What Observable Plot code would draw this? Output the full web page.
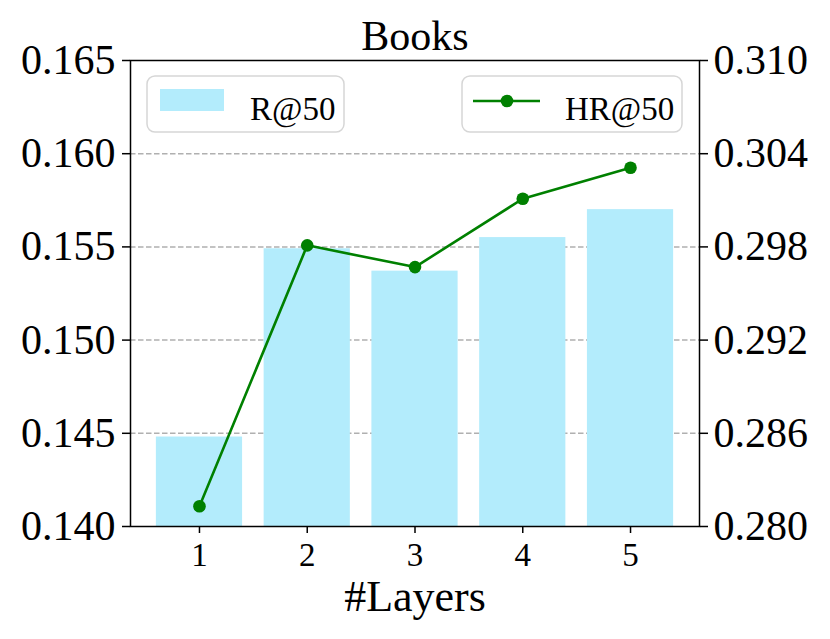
<!DOCTYPE html>
<html>
<head>
<meta charset="utf-8">
<script src="https://cdn.jsdelivr.net/npm/d3@7"></script>
<script src="https://cdn.jsdelivr.net/npm/@observablehq/plot@0.6"></script>
<style>
  html, body { margin: 0; padding: 0; background: #fff; }
  #chart svg { display: block; }
</style>
</head>
<body>
<div id="chart"></div>
<script>
const layers = [1, 2, 3, 4, 5];
const recall50 = [0.1448, 0.1549, 0.1537, 0.1555, 0.1570];
const hr50 = [0.2813, 0.2981, 0.2967, 0.3011, 0.3031];
const leftTicks = [0.140, 0.145, 0.150, 0.155, 0.160, 0.165];
const rightTicks = [0.280, 0.286, 0.292, 0.298, 0.304, 0.310];
const gridTicks = [0.145, 0.150, 0.155, 0.160];
const title = "Books";
const xLabel = "#Layers";
const seriesNames = ["R@50", "HR@50"];

const leftDomain = [0.140, 0.165];
const rightDomain = [0.280, 0.310];
const toLeft = v => leftDomain[0] + (v - rightDomain[0]) * (leftDomain[1] - leftDomain[0]) / (rightDomain[1] - rightDomain[0]);
const toRight = v => rightDomain[0] + (v - leftDomain[0]) * (rightDomain[1] - rightDomain[0]) / (leftDomain[1] - leftDomain[0]);

const rows = layers.map((l, i) => ({layer: l, r: recall50[i], hr: hr50[i], hrL: toLeft(hr50[i])}));

const barColor = "#b3ecfc";
const lineColor = "#008000";
const font = "'Liberation Serif', 'Times New Roman', serif";

const plot = Plot.plot({
  width: 830,
  height: 639,
  marginLeft: 130,
  marginRight: 131,
  marginTop: 60,
  marginBottom: 113,
  style: {fontFamily: font, fontSize: "42px", color: "black", background: "white"},
  x: {type: "linear", domain: [0.36, 5.64]},
  y: {domain: leftDomain},
  marks: [
    Plot.ruleY(gridTicks, {stroke: "#b0b0b0", strokeWidth: 1.5, strokeDasharray: "5.5,2.5"}),
    Plot.rectY(rows, {x1: d => d.layer - 0.4, x2: d => d.layer + 0.4, y1: () => leftDomain[0], y2: "r", fill: barColor}),
    Plot.line(rows, {x: "layer", y: "hrL", stroke: lineColor, strokeWidth: 2.6}),
    Plot.dot(rows, {x: "layer", y: "hrL", r: 6.3, fill: lineColor, stroke: "none"}),
    Plot.frame({stroke: "black", strokeWidth: 1.5}),
    Plot.axisY({anchor: "left", ticks: leftTicks, tickFormat: d => d.toFixed(3), tickSize: 8, tickPadding: 7, fontSize: 42, fontFamily: font, fontVariant: "normal", strokeWidth: 1.5, label: null}),
    Plot.axisY({anchor: "right", ticks: rightTicks.map(toLeft), tickFormat: d => toRight(d).toFixed(3), tickSize: 8, tickPadding: 6, fontSize: 42, fontFamily: font, fontVariant: "normal", strokeWidth: 1.5, label: null}),
    Plot.axisX({ticks: layers, tickFormat: d => String(d), tickSize: 7, tickPadding: 9, fontSize: 33, fontFamily: font, fontVariant: "normal", strokeWidth: 1.5, label: null}),
    Plot.text([xLabel], {text: d => d, frameAnchor: "bottom", dy: 84, lineAnchor: "bottom", fontSize: 44, fontFamily: font}),
    Plot.text([title], {text: d => d, frameAnchor: "top", dy: -11, lineAnchor: "bottom", fontSize: 42, fontFamily: font})
  ]
});

document.getElementById("chart").appendChild(plot);

// Legends
const svg = d3.select(plot);
const lg = svg.append("g")
  .style("font-family", font).style("font-size", "33px").attr("text-anchor", "start");
// Legend 1: bars
lg.append("rect").attr("x", 147).attr("y", 76).attr("width", 197).attr("height", 56)
  .attr("rx", 8).attr("fill", "white").attr("fill-opacity", 0.8).attr("stroke", "#d6d6d6").attr("stroke-width", 1.5);
lg.append("rect").attr("x", 160).attr("y", 89).attr("width", 64).attr("height", 22).attr("fill", barColor);
lg.append("text").attr("x", 250).attr("y", 120).attr("text-anchor", "start").attr("fill", "black").text(seriesNames[0]);
// Legend 2: line
lg.append("rect").attr("x", 462).attr("y", 76).attr("width", 220).attr("height", 56)
  .attr("rx", 8).attr("fill", "white").attr("fill-opacity", 0.8).attr("stroke", "#d6d6d6").attr("stroke-width", 1.5);
lg.append("line").attr("x1", 473).attr("x2", 540).attr("y1", 101).attr("y2", 101)
  .attr("stroke", lineColor).attr("stroke-width", 2.6);
lg.append("circle").attr("cx", 507).attr("cy", 101).attr("r", 6.3).attr("fill", lineColor);
lg.append("text").attr("x", 565).attr("y", 120).attr("text-anchor", "start").attr("fill", "black").text(seriesNames[1]);
</script>
</body>
</html>
